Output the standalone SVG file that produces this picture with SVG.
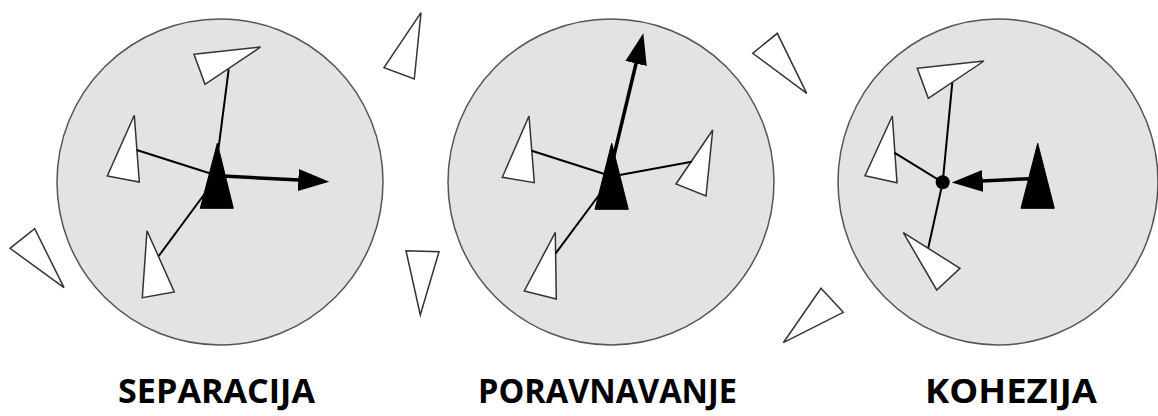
<svg xmlns="http://www.w3.org/2000/svg" width="1158" height="416" viewBox="0 0 1158 416">
<style>
.zone{fill:#e3e3e3;stroke:#555;stroke-width:1.5}
.boid{fill:#fff;stroke:#333;stroke-width:1.5;stroke-linejoin:miter}
.me{fill:#000;stroke:#000;stroke-width:1}
.link{stroke:#000;stroke-width:2;fill:none}
.force{stroke:#000;stroke-width:3.5;fill:none}
.lbl{font-family:"Open Sans","Liberation Sans",sans-serif;font-weight:700;font-size:34px;fill:#000;text-anchor:middle}
</style>
<defs>
<marker id="ah" markerUnits="userSpaceOnUse" markerWidth="32" markerHeight="24" viewBox="-1 0 32 22" refX="0" refY="11" orient="auto">
<path d="M-1,0 L30,11 L-1,22 z" fill="#000"/>
</marker>
</defs>

<g id="separacija">
<circle class="zone" cx="220" cy="182" r="163"/>
<polygon class="boid" points="194,54.3 260.7,47 205,84.3"/>
<polygon class="boid" points="134.3,115.3 139.3,182 107.3,176"/>
<polygon class="boid" points="147,230.7 174.3,292 142.3,297.7"/>
<polygon class="boid" points="10,248.3 34.7,228.7 64,287.7"/>
<polygon class="me" points="217.3,143.3 200.3,208.3 233.3,208.3"/>
</g>

<g id="poravnavanje">
<circle class="zone" cx="611" cy="182" r="163"/>
<polygon class="boid" points="529,116 534.3,182.7 502.3,177.3"/>
<polygon class="boid" points="712.7,130 706,196 676,184"/>
<polygon class="boid" points="555.3,232.3 556.3,299 524.3,291"/>
<polygon class="boid" points="421,12.7 384,67.7 414.3,79"/>
<polygon class="boid" points="406,250.7 439,251.7 420.3,315"/>
<polygon class="me" points="611.7,143.3 595,209.3 628.3,209.3"/>
</g>

<g id="kohezija">
<ellipse class="zone" cx="998" cy="182" rx="160" ry="163"/>
<polygon class="boid" points="917.3,68.3 984,61 928.3,98.3"/>
<polygon class="boid" points="892.3,116 897,182.7 865,175.7"/>
<polygon class="boid" points="903.3,232.7 960,268.3 936.7,290"/>
<polygon class="boid" points="752.7,53.3 777.3,33.3 806.7,93.3"/>
<polygon class="boid" points="821,288.3 843.3,312.3 783.3,342.7"/>
<polygon class="me" points="1037.7,143.3 1021,208.3 1054.3,208.3"/>
<circle cx="942.7" cy="182.3" r="7" fill="#000"/>
</g>

<g id="connectors">
<line class="link" x1="228.7" y1="69.3" x2="218.3" y2="150"/>
<line class="link" x1="136.7" y1="150" x2="212" y2="174"/>
<line class="link" x1="158.7" y1="256" x2="206" y2="192"/>
<line class="force" x1="223" y1="176" x2="299.3" y2="180.1" marker-end="url(#ah)"/>

<line class="link" x1="531.7" y1="150.7" x2="606" y2="174.5"/>
<line class="link" x1="691.7" y1="161.7" x2="617" y2="175.5"/>
<line class="link" x1="555.7" y1="253.3" x2="602" y2="191"/>
<line class="force" x1="611" y1="168" x2="636.3" y2="62.5" marker-end="url(#ah)"/>

<line class="link" x1="952.3" y1="82.7" x2="942.7" y2="182.3"/>
<line class="link" x1="894.3" y1="152.7" x2="942.7" y2="182.3"/>
<line class="link" x1="928.3" y1="247.7" x2="942.7" y2="182.3"/>
<line class="force" x1="1030" y1="178.7" x2="981.7" y2="181" marker-end="url(#ah)"/>
</g>

<g id="labels">
<text class="lbl" x="216.5" y="403" textLength="197" lengthAdjust="spacingAndGlyphs">SEPARACIJA</text>
<text class="lbl" x="607.5" y="403" textLength="259" lengthAdjust="spacingAndGlyphs">PORAVNAVANJE</text>
<text class="lbl" x="1011" y="403" textLength="172" lengthAdjust="spacingAndGlyphs">KOHEZIJA</text>
</g>
</svg>
